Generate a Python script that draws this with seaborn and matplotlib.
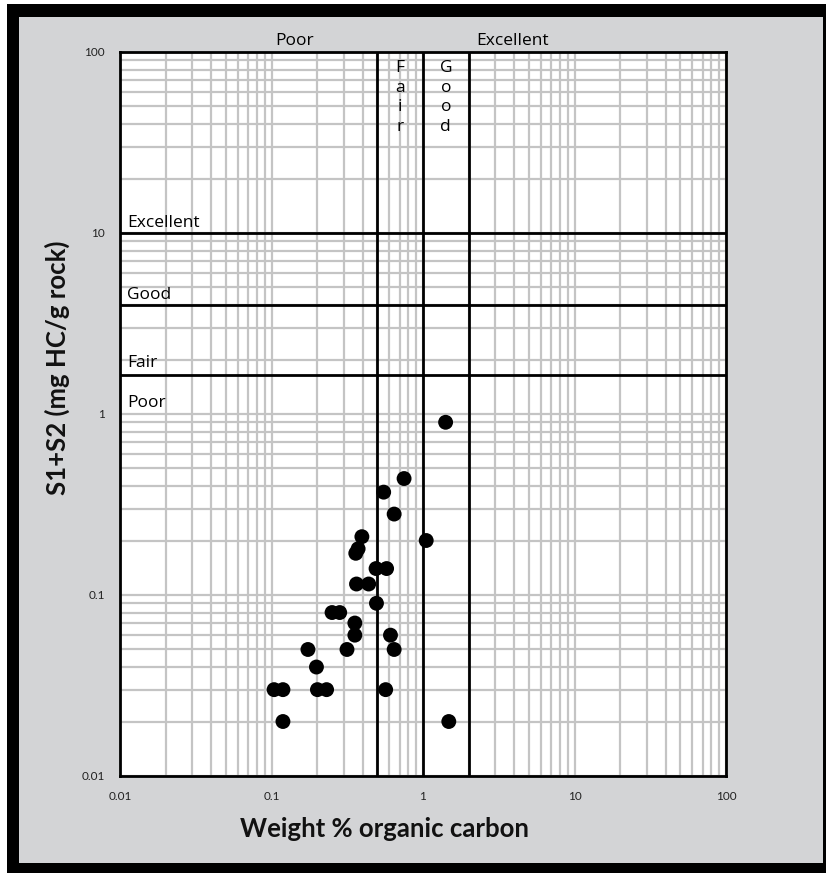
import numpy as np
import pandas as pd
import matplotlib
matplotlib.use("Agg")
import matplotlib.pyplot as plt
import matplotlib.patches as mpatches
import matplotlib.ticker as mticker
import seaborn as sns

# Sample measurements: total organic carbon vs. S1+S2 pyrolysis yield
toc = [1.41, 0.75, 0.55, 0.645, 1.05, 0.395, 0.373, 0.36, 0.49, 0.575,
       0.364, 0.438, 0.493, 0.251, 0.282, 0.355, 0.355, 0.61, 0.174, 0.315,
       0.645, 0.198, 0.104, 0.119, 0.201, 0.231, 0.567, 0.119, 1.48]
s1s2 = [0.9, 0.44, 0.37, 0.28, 0.2, 0.21, 0.18, 0.17, 0.14, 0.14,
        0.115, 0.115, 0.09, 0.08, 0.08, 0.07, 0.06, 0.06, 0.05, 0.05,
        0.05, 0.04, 0.03, 0.03, 0.03, 0.03, 0.03, 0.02, 0.02]

# Source-rock quality boundaries
toc_limits = [0.5, 1.0, 2.0]
yield_limits = [1.65, 4.0, 10.0]
yield_classes = ["Poor", "Fair", "Good", "Excellent"]
tick_values = [0.01, 0.1, 1, 10, 100]
tick_labels = ["0.01", "0.1", "1", "10", "100"]

df = pd.DataFrame({"toc": toc, "s1s2": s1s2})

sns.set_theme(style="white")
plt.rcParams["font.family"] = ["Lato", "DejaVu Sans"]

W, H = 826, 873
fig = plt.figure(figsize=(W / 100, H / 100), dpi=100, facecolor="white")

# framed grey backdrop
fig.patches.append(mpatches.Rectangle((7 / W, 0), (W - 7) / W, (H - 4) / H,
                                      transform=fig.transFigure, facecolor="black",
                                      edgecolor="none", zorder=-2))
fig.patches.append(mpatches.Rectangle((19 / W, (H - 863) / H), (823 - 19) / W, (863 - 17) / H,
                                      transform=fig.transFigure, facecolor="#d3d4d6",
                                      edgecolor="none", zorder=-1))

ax_l, ax_r, ax_t, ax_b = 120, 726, 52, 776
ax = fig.add_axes([ax_l / W, 1 - ax_b / H, (ax_r - ax_l) / W, (ax_b - ax_t) / H])
ax.set_facecolor("white")
ax.set_xscale("log")
ax.set_yscale("log")
ax.set_xlim(0.01, 100)
ax.set_ylim(0.01, 100)

ax.xaxis.set_major_locator(mticker.FixedLocator(tick_values))
ax.yaxis.set_major_locator(mticker.FixedLocator(tick_values))
ax.xaxis.set_minor_locator(mticker.LogLocator(base=10, subs=np.arange(2, 10)))
ax.yaxis.set_minor_locator(mticker.LogLocator(base=10, subs=np.arange(2, 10)))
ax.xaxis.set_minor_formatter(mticker.NullFormatter())
ax.yaxis.set_minor_formatter(mticker.NullFormatter())
ax.set_xticklabels(tick_labels)
ax.set_yticklabels(tick_labels)
ax.tick_params(which="both", length=0, labelsize=8.5, labelcolor="#222222")
ax.tick_params(axis="x", pad=11)
ax.tick_params(axis="y", pad=11)

ax.grid(True, which="both", color="#c4c4c4", linewidth=1.6, zorder=0)
ax.set_axisbelow(True)
for s in ax.spines.values():
    s.set_visible(True)
    s.set_color("black")
    s.set_linewidth(2)

for v in toc_limits:
    ax.axvline(v, color="black", linewidth=2, zorder=2)
for v in yield_limits:
    ax.axhline(v, color="black", linewidth=2, zorder=2)

sns.scatterplot(data=df, x="toc", y="s1s2", ax=ax, color="black", s=115,
                edgecolor="none", zorder=3, legend=False)

ax.set_xlabel("")
ax.set_ylabel("")

# class labels
txt = dict(family=["Open Sans", "DejaVu Sans"], fontsize=12.5, color="black")
label_y = [1.09, 1.82, 4.32, 10.8]
lbl_x = 0.0111
for name, yv in zip(yield_classes, label_y):
    ax.text(lbl_x, yv, name, ha="left", va="baseline", **txt)

trans_x = ax.get_xaxis_transform()
top_frac = 1 + 7 / (ax_b - ax_t)
ax.text(0.1425, top_frac, "Poor", transform=trans_x, ha="center", va="baseline", **txt)
ax.text(3.9, top_frac, "Excellent", transform=trans_x, ha="center", va="baseline", **txt)
ax.text(np.sqrt(0.5), (ax_b - 60) / (ax_b - ax_t), "F\na\ni\nr", transform=trans_x,
        ha="center", va="top", linespacing=1.3, **txt)
ax.text(np.sqrt(2.0), (ax_b - 60) / (ax_b - ax_t), "G\no\no\nd", transform=trans_x,
        ha="center", va="top", linespacing=1.3, **txt)

# axis titles
fig.text(385 / W, 1 - 829 / H, "Weight % organic carbon", ha="center", va="center",
         fontsize=18.5, fontweight="bold", color="#111111")
fig.text(57 / W, 1 - 368 / H, "S1+S2 (mg HC/g rock)", ha="center", va="center",
         rotation=90, fontsize=18.5, fontweight="bold", color="#111111")

fig.savefig("out.png", dpi=100, facecolor=fig.get_facecolor())
